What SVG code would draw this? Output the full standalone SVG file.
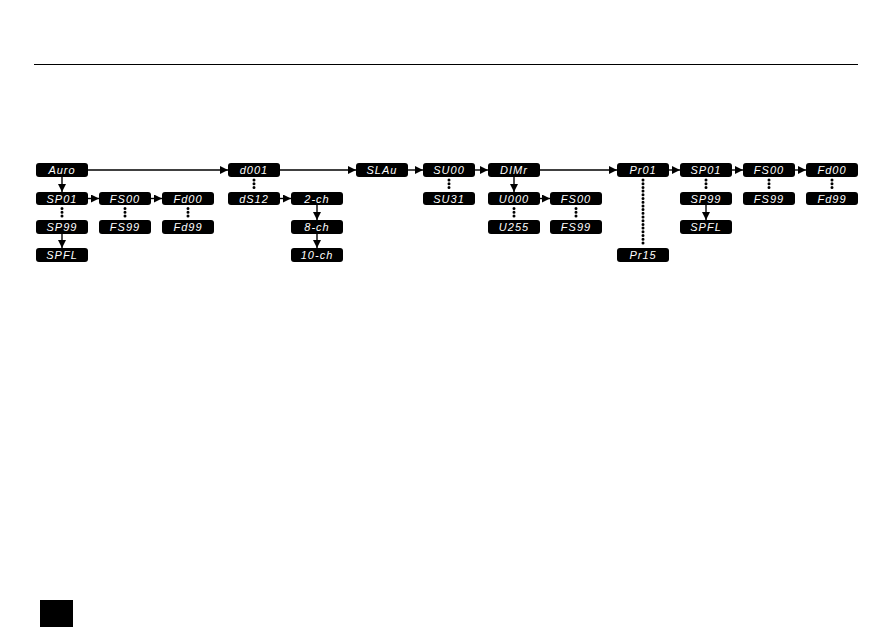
<svg xmlns="http://www.w3.org/2000/svg" width="893" height="631" viewBox="0 0 893 631">
<defs>
<style>
.b{fill:#000}
.t{fill:#fff;font-family:"Liberation Sans",Arial,sans-serif;font-size:11px;font-style:italic;letter-spacing:1px;text-anchor:middle}
.l{stroke:#000;stroke-width:1.4;fill:none}
.d{stroke:#000;stroke-width:3;stroke-linecap:round;stroke-dasharray:0 3.7;fill:none}
</style>
<marker id="a" viewBox="0 0 8 8" refX="8" refY="4" markerWidth="8" markerHeight="8" markerUnits="userSpaceOnUse" orient="auto"><path d="M0,0L8,4L0,8z" fill="#000"/></marker>
</defs>
<rect width="893" height="631" fill="#fff"/>
<line x1="34" y1="64.5" x2="858" y2="64.5" stroke="#000" stroke-width="1"/>
<rect x="40" y="600" width="33" height="27" fill="#000"/>

<g id="connectors">
<line class="l" x1="88" y1="170" x2="228" y2="170" marker-end="url(#a)"/>
<line class="l" x1="280" y1="170" x2="356" y2="170" marker-end="url(#a)"/>
<line class="l" x1="408" y1="170" x2="423" y2="170" marker-end="url(#a)"/>
<line class="l" x1="475" y1="170" x2="488" y2="170" marker-end="url(#a)"/>
<line class="l" x1="540" y1="170" x2="617" y2="170" marker-end="url(#a)"/>
<line class="l" x1="669" y1="170" x2="680" y2="170" marker-end="url(#a)"/>
<line class="l" x1="732" y1="170" x2="743" y2="170" marker-end="url(#a)"/>
<line class="l" x1="795" y1="170" x2="806" y2="170" marker-end="url(#a)"/>
<line class="l" x1="62" y1="177" x2="62" y2="192" marker-end="url(#a)"/>
<line class="l" x1="88" y1="198.5" x2="99" y2="198.5" marker-end="url(#a)"/>
<line class="l" x1="151" y1="198.5" x2="162" y2="198.5" marker-end="url(#a)"/>
<line class="d" x1="62" y1="208.5" x2="62" y2="218"/>
<line class="d" x1="125" y1="208.5" x2="125" y2="218"/>
<line class="d" x1="188" y1="208.5" x2="188" y2="218"/>
<line class="l" x1="62" y1="234" x2="62" y2="248" marker-end="url(#a)"/>
<line class="d" x1="254" y1="180" x2="254" y2="190"/>
<line class="l" x1="280" y1="198.5" x2="291" y2="198.5" marker-end="url(#a)"/>
<line class="l" x1="317" y1="205" x2="317" y2="220" marker-end="url(#a)"/>
<line class="l" x1="317" y1="234" x2="317" y2="248" marker-end="url(#a)"/>
<line class="d" x1="449" y1="180" x2="449" y2="190"/>
<line class="l" x1="514" y1="177" x2="514" y2="192" marker-end="url(#a)"/>
<line class="l" x1="540" y1="198.5" x2="550" y2="198.5" marker-end="url(#a)"/>
<line class="d" x1="514" y1="208.5" x2="514" y2="218"/>
<line class="d" x1="576" y1="208.5" x2="576" y2="218"/>
<line class="d" x1="643" y1="180" x2="643" y2="246"/>
<line class="d" x1="706" y1="180" x2="706" y2="190"/>
<line class="l" x1="706" y1="205" x2="706" y2="220" marker-end="url(#a)"/>
<line class="d" x1="769" y1="180" x2="769" y2="190"/>
<line class="d" x1="832" y1="180" x2="832" y2="190"/>
</g>

<g id="n-auro"><rect class="b" x="36" y="163" width="52" height="14" rx="3"/><text class="t" x="62" y="174">Auro</text></g>
<g id="n-sp01a"><rect class="b" x="36" y="192" width="52" height="13" rx="3"/><text class="t" x="62" y="202.5">SP01</text></g>
<g id="n-sp99a"><rect class="b" x="36" y="220" width="52" height="14" rx="3"/><text class="t" x="62" y="231">SP99</text></g>
<g id="n-spfla"><rect class="b" x="36" y="248" width="52" height="14" rx="3"/><text class="t" x="62" y="259">SPFL</text></g>
<g id="n-fs00a"><rect class="b" x="99" y="192" width="52" height="13" rx="3"/><text class="t" x="125" y="202.5">FS00</text></g>
<g id="n-fs99a"><rect class="b" x="99" y="220" width="52" height="14" rx="3"/><text class="t" x="125" y="231">FS99</text></g>
<g id="n-fd00a"><rect class="b" x="162" y="192" width="52" height="13" rx="3"/><text class="t" x="188" y="202.5">Fd00</text></g>
<g id="n-fd99a"><rect class="b" x="162" y="220" width="52" height="14" rx="3"/><text class="t" x="188" y="231">Fd99</text></g>

<g id="n-d001"><rect class="b" x="228" y="163" width="52" height="14" rx="3"/><text class="t" x="254" y="174">d001</text></g>
<g id="n-ds12"><rect class="b" x="228" y="192" width="52" height="13" rx="3"/><text class="t" x="254" y="202.5">dS12</text></g>
<g id="n-2ch"><rect class="b" x="291" y="192" width="52" height="13" rx="3"/><text class="t" x="317" y="202.5">2-ch</text></g>
<g id="n-8ch"><rect class="b" x="291" y="220" width="52" height="14" rx="3"/><text class="t" x="317" y="231">8-ch</text></g>
<g id="n-10ch"><rect class="b" x="291" y="248" width="52" height="14" rx="3"/><text class="t" x="317" y="259">10-ch</text></g>

<g id="n-slau"><rect class="b" x="356" y="163" width="52" height="14" rx="3"/><text class="t" x="382" y="174">SLAu</text></g>
<g id="n-su00"><rect class="b" x="423" y="163" width="52" height="14" rx="3"/><text class="t" x="449" y="174">SU00</text></g>
<g id="n-su31"><rect class="b" x="423" y="192" width="52" height="13" rx="3"/><text class="t" x="449" y="202.5">SU31</text></g>

<g id="n-dimr"><rect class="b" x="488" y="163" width="52" height="14" rx="3"/><text class="t" x="514" y="174">DIMr</text></g>
<g id="n-u000"><rect class="b" x="488" y="192" width="52" height="13" rx="3"/><text class="t" x="514" y="202.5">U000</text></g>
<g id="n-u255"><rect class="b" x="488" y="220" width="52" height="14" rx="3"/><text class="t" x="514" y="231">U255</text></g>
<g id="n-fs00b"><rect class="b" x="550" y="192" width="52" height="13" rx="3"/><text class="t" x="576" y="202.5">FS00</text></g>
<g id="n-fs99b"><rect class="b" x="550" y="220" width="52" height="14" rx="3"/><text class="t" x="576" y="231">FS99</text></g>

<g id="n-pr01"><rect class="b" x="617" y="163" width="52" height="14" rx="3"/><text class="t" x="643" y="174">Pr01</text></g>
<g id="n-pr15"><rect class="b" x="617" y="248" width="52" height="14" rx="3"/><text class="t" x="643" y="259">Pr15</text></g>
<g id="n-sp01c"><rect class="b" x="680" y="163" width="52" height="14" rx="3"/><text class="t" x="706" y="174">SP01</text></g>
<g id="n-sp99c"><rect class="b" x="680" y="192" width="52" height="13" rx="3"/><text class="t" x="706" y="202.5">SP99</text></g>
<g id="n-spflc"><rect class="b" x="680" y="220" width="52" height="14" rx="3"/><text class="t" x="706" y="231">SPFL</text></g>
<g id="n-fs00c"><rect class="b" x="743" y="163" width="52" height="14" rx="3"/><text class="t" x="769" y="174">FS00</text></g>
<g id="n-fs99c"><rect class="b" x="743" y="192" width="52" height="13" rx="3"/><text class="t" x="769" y="202.5">FS99</text></g>
<g id="n-fd00c"><rect class="b" x="806" y="163" width="52" height="14" rx="3"/><text class="t" x="832" y="174">Fd00</text></g>
<g id="n-fd99c"><rect class="b" x="806" y="192" width="52" height="13" rx="3"/><text class="t" x="832" y="202.5">Fd99</text></g>
</svg>
